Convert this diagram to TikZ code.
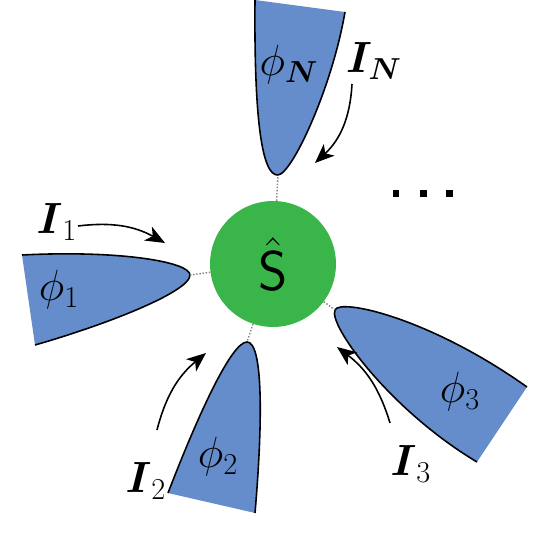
\documentclass[tikz,border=0pt]{standalone}
\usepackage{amsmath, amssymb}
\usetikzlibrary{arrows.meta}
\definecolor{leadblue}{RGB}{101,141,203}
\definecolor{dotgreen}{RGB}{57,181,74}

\begin{document}
\begin{tikzpicture}
    [x=0.02cm, y=-0.02cm,
    font=\fontsize{24}{29}\selectfont,
    edge/.style={line width=0.9pt, line join=round},
    flow/.style={line width=0.9pt, -{Stealth[length=11pt, width=9pt, inset=3pt]}},
    link/.style={densely dotted, gray, line width=0.8pt},
    sqdot/.style={inner sep=0pt, minimum size=0.14cm, fill=black}]
        \useasboundingbox (0,0) rectangle (542,540);
        % Quantum dot
        \node[circle, fill=dotgreen, inner sep=0pt, minimum size=2.52cm] (S) at (273,264)
            {\scalebox{1.28}{$\hat{\mathsf{S}}$}};

        % Lead N
        \coordinate (N1) at (255,0);
        \coordinate (N2) at (345,12);
        \coordinate (TN) at (278,175);
        \fill[leadblue] (N1) .. controls (254,120) and (262,176) .. (TN) .. controls (292,174) and (332,88) .. (N2) -- cycle;
        \draw[edge] (N1) .. controls (254,120) and (262,176) .. (TN) .. controls (292,174) and (332,88) .. (N2);
        \draw[link] (S) -- (TN);
        \node (phiN) at (289,65) {$\phi_{\boldsymbol{N}}$};
        \node (IN) at (374,61) {$\boldsymbol{I_N}$};
        \coordinate (aN1) at (352,84);
        \coordinate (aN2) at (315,163);
        \draw[flow, bend left=22] (aN1) to (aN2);

        % Lead 1
        \coordinate (L1) at (22,255);
        \coordinate (L2) at (35,345);
        \coordinate (T1) at (190,275);
        \fill[leadblue] (L1) .. controls (120,250) and (190,262) .. (T1) .. controls (190,292) and (105,325) .. (L2) -- cycle;
        \draw[edge] (L1) .. controls (120,250) and (190,262) .. (T1) .. controls (190,292) and (105,325) .. (L2);
        \draw[link] (S) -- (T1);
        \node (phi1) at (59,290) {$\phi_1$};
        \node (I1) at (57,222) {$\boldsymbol{I}_1$};
        \coordinate (a11) at (78,226);
        \coordinate (a12) at (165,243);
        \draw[flow, bend left=18] (a11) to (a12);

        % Lead 2
        \coordinate (B1) at (168,493);
        \coordinate (B2) at (255,513);
        \coordinate (T2) at (247,342);
        \fill[leadblue] (B1) .. controls (200,410) and (232,342) .. (T2) .. controls (263,342) and (263,420) .. (B2) -- cycle;
        \draw[edge] (B1) .. controls (200,410) and (232,342) .. (T2) .. controls (263,342) and (263,420) .. (B2);
        \draw[link] (S) -- (T2);
        \node (phi2) at (218,457) {$\phi_2$};
        \node (I2) at (146,481) {$\boldsymbol{I}_2$};
        \coordinate (a21) at (157,430);
        \coordinate (a22) at (206,353);
        \draw[flow, bend left=18] (a21) to (a22);

        % Lead 3
        \coordinate (R1) at (527,387);
        \coordinate (R2) at (477,462);
        \coordinate (T3) at (335,310);
        \fill[leadblue] (T3) .. controls (340,298) and (430,318) .. (R1) -- (R2) .. controls (390,410) and (328,325) .. (T3) -- cycle;
        \draw[edge] (R1) .. controls (430,318) and (340,298) .. (T3) .. controls (328,325) and (390,410) .. (R2);
        \draw[link] (S) -- (T3);
        \node (phi3) at (460,392) {$\phi_3$};
        \node (I3) at (411,464) {$\boldsymbol{I}_3$};
        \coordinate (a31) at (390,423);
        \coordinate (a32) at (337,347);
        \draw[flow, bend right=18] (a31) to (a32);

        % further leads
        \foreach \x [count=\i] in {396,423,449}
            \node[sqdot] (dots\i) at (\x,194) {};
    \end{tikzpicture}
\end{document}
